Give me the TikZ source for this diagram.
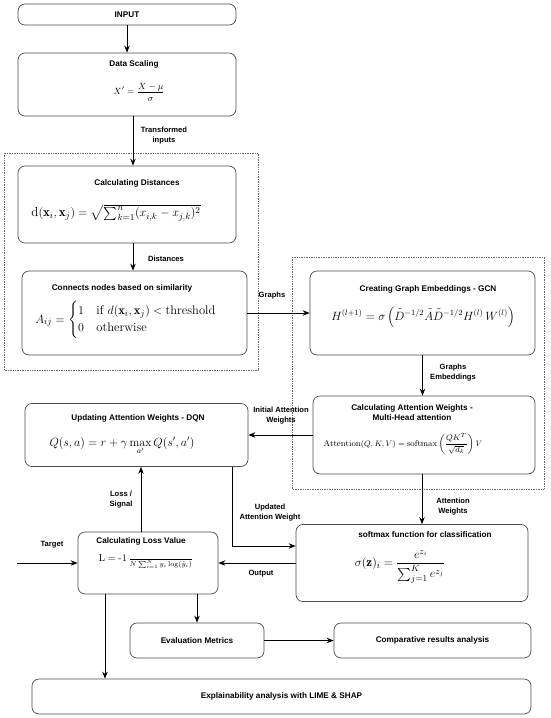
\documentclass[tikz,border=0pt]{standalone}
\usepackage{amsmath,amssymb}
\usepackage{fontspec}
\setsansfont{Liberation Sans}
\usetikzlibrary{arrows.meta}

\begin{document}
\begin{tikzpicture}[x=1pt,y=-1pt,every node/.style={font=\sffamily\bfseries\fontsize{8.2}{10}\selectfont,align=center,inner sep=0pt},box/.style={draw=black!70,line width=0.7pt,rounded corners=7pt},grp/.style={draw=black!60,densely dotted,line width=0.7pt},lnk/.style={-{Stealth[length=7pt,width=5.5pt]},line width=0.9pt},lbl/.style={font=\sffamily\bfseries\fontsize{7.6}{10}\selectfont},eq/.style={font=\normalfont}]
\useasboundingbox (0,0) rectangle (550,718);
\draw[grp] (4,153) rectangle (258,370);
\draw[grp] (292,257) rectangle (544,489);
\node[box,minimum width=218,minimum height=21] (input) at (127,14.5) {INPUT};
\node[box,minimum width=218,minimum height=63] (scale) at (127,84.5) {};
\node (scaleT) at (134,64) {Data Scaling};
\node[eq] (scaleF) at (139,92) {\fontsize{9.5}{11}\selectfont$\displaystyle X' = \frac{X-\mu}{\sigma}$};
\draw[lnk] (input.south) -- (scale.north);
\node[box,minimum width=218,minimum height=77] (dist) at (127,204.5) {};
\node (distT) at (137,183) {Calculating Distances};
\node[eq] (distF) at (116,213) {\fontsize{13}{15}\selectfont$\mathrm{d}(\mathbf{x}_i,\mathbf{x}_j)=\sqrt{\sum_{k=1}^{n}(x_{i,k}-x_{j,k})^2}$};
\draw[lnk] ([xshift=6pt]scale.south) -- ([xshift=6pt]dist.north);
\node[lbl] (l1) at (164,136) {Transformed\\inputs};
\node[box,minimum width=225,minimum height=84] (conn) at (134.5,313) {};
\node (connT) at (122,288) {Connects nodes based on similarity};
\node[eq] (connF) at (126,320) {\fontsize{12.5}{14}\selectfont$A_{ij}=\begin{cases}1 & \text{if } d(\mathbf{x}_i,\mathbf{x}_j)<\text{threshold}\\ 0 & \text{otherwise}\end{cases}$};
\draw[lnk] ([xshift=6pt]dist.south) -- ([xshift=6pt]dist.south |- conn.north);
\node[lbl] (l2) at (166,259) {Distances};
\node[box,minimum width=225,minimum height=84] (gcn) at (422.5,313) {};
\node (gcnT) at (428,289) {Creating Graph Embeddings - GCN};
\node[eq] (gcnF) at (423,317) {\fontsize{11.5}{13}\selectfont$H^{(l+1)}=\sigma\left(\tilde{D}^{-1/2}\tilde{A}\tilde{D}^{-1/2}H^{(l)}\,W^{(l)}\right)$};
\draw[lnk] (conn.east) -- (gcn.west);
\node[lbl] (l3) at (272,296) {Graphs};
\node[box,minimum width=222,minimum height=78] (attn) at (424,435) {};
\node (attnT) at (412,412.5) {Calculating Attention Weights -\\Multi-Head attention};
\node[eq] (attnF) at (403,444) {\fontsize{8.5}{10}\selectfont$\mathrm{Attention}(Q,K,V)=\mathrm{softmax}\left(\dfrac{QK^{T}}{\sqrt{d_k}}\right)V$};
\draw[lnk] (gcn.south) -- (gcn.south |- attn.north);
\node[lbl] (l4) at (453,373) {Graphs\\Embeddings};
\node[box,minimum width=223,minimum height=63] (dqn) at (136.5,435) {};
\node (dqnT) at (138,418) {Updating Attention Weights - DQN};
\node[eq] (dqnF) at (122,446) {\fontsize{12}{14}\selectfont$Q(s,a)=r+\gamma\max\limits_{a'}Q(s',a')$};
\draw[lnk] (attn.west) -- (attn.west -| dqn.east);
\node[lbl] (l5) at (281,415.5) {Initial Attention\\Weights};
\node[box,minimum width=232,minimum height=77] (soft) at (412,563) {};
\node (softT) at (425,535) {softmax function for classification};
\node[eq] (softF) at (400,567) {\fontsize{13}{15}\selectfont$\displaystyle\sigma(\mathbf{z})_i=\frac{e^{z_i}}{\sum_{j=1}^{K}e^{z_j}}$};
\draw[lnk] ([xshift=-2pt]attn.south) -- ([xshift=-2pt]attn.south |- soft.north);
\node[lbl] (l6) at (453,507) {Attention\\Weights};
\node[box,minimum width=140,minimum height=62] (loss) at (148,563) {};
\node (lossT) at (141,541) {Calculating Loss Value};
\node[eq] (lossF) at (146,561) {\fontsize{10}{12}\selectfont$\mathrm{L}=\text{-}1\,\frac{\vphantom{1}}{N\sum_{i=1}^{N}y_i\log(\hat{y}_i)}$};
\draw[lnk] ([xshift=-7pt]loss.north) -- ([xshift=-7pt]loss.north |- dqn.south);
\node[lbl] (l7) at (121,500) {Loss /\\Signal};
\draw[lnk] ([xshift=95.5pt]dqn.south) |- ([yshift=17pt]soft.west);
\node[lbl] (l8) at (270,513) {Updated\\Attention Weight};
\draw[lnk] (soft.west) -- (soft.west -| loss.east);
\node[lbl] (l9) at (261,574) {Output};
\coordinate (tgt) at (17,563);
\draw[lnk] (tgt) -- (loss.west);
\node[lbl] (l10) at (52,545) {Target};
\node[box,minimum width=134,minimum height=35] (eval) at (197,640.5) {Evaluation Metrics};
\node[box,minimum width=197,minimum height=35] (comp) at (432.5,640.5) {Comparative results analysis};
\node[box,minimum width=499,minimum height=35] (expl) at (281.5,696.5) {Explainability analysis with LIME \& SHAP};
\draw[lnk] (eval.north |- loss.south) -- (eval.north);
\draw[lnk] ([xshift=-43pt]loss.south) -- ([xshift=-43pt]loss.south |- expl.north);
\draw[lnk] (eval.east) -- (comp.west);
\end{tikzpicture}
\end{document}
